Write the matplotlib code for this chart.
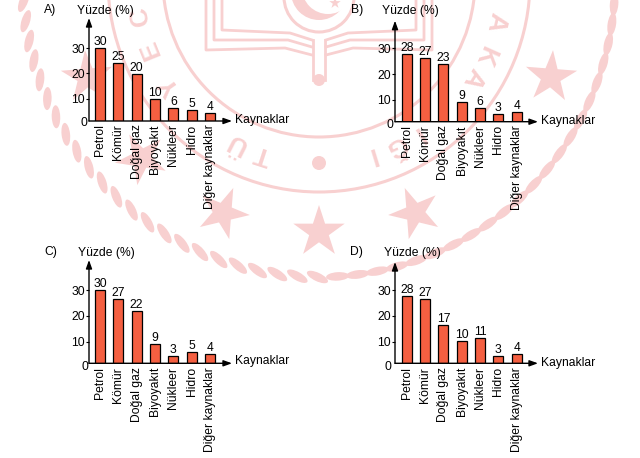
import numpy as np
import matplotlib
matplotlib.use("Agg")
import matplotlib.pyplot as plt
from matplotlib.patches import Circle, Ellipse, Polygon

plt.rcParams['font.family'] = ['Liberation Sans', 'DejaVu Sans']

categories = ["Petrol", "Kömür", "Doğal gaz", "Biyoyakıt", "Nükleer", "Hidro", "Diğer kaynaklar"]
# printed values
labels_a = [30, 25, 20, 10, 6, 5, 4]
labels_b = [28, 27, 23, 9, 6, 3, 4]
labels_c = [30, 27, 22, 9, 3, 5, 4]
labels_d = [28, 27, 17, 10, 11, 3, 4]
# drawn bar heights, read against the y axis
heights_a = [30, 24.2, 19.8, 9.9, 6.4, 5.5, 4.3]
heights_b = [27.8, 26.3, 23.8, 9.2, 7.0, 4.5, 5.5]
heights_c = [30, 26.4, 21.9, 9.0, 4.4, 5.9, 5.1]
heights_d = [27.7, 26.4, 16.5, 10.2, 11.3, 4.6, 5.1]
panel_labels = ["A)", "B)", "C)", "D)"]
yticks = [10, 20, 30]
ylabel = "Yüzde (%)"
xlabel = "Kaynaklar"

W, H = 640, 458
FS = 8.7
PINK = "#f8d0d0"
BAR = "#f45f41"

fig = plt.figure(figsize=(W/100, H/100), dpi=100, facecolor="white")

# ---- background watermark (pixel coordinates, y downward) ----
bg = fig.add_axes([0, 0, 1, 1], zorder=0)
bg.set_xlim(0, W); bg.set_ylim(H, 0); bg.axis("off")
CX, CY = 319, -19

def polar(phi, r):
    a = np.radians(phi)
    return CX + r*np.sin(a), CY - r*np.cos(a)

def star(x, y, radius, turn):
    """Five-pointed star; turn is the clockwise rotation of its apex from straight up."""
    angles = np.radians(turn + 36*np.arange(10))
    radii = np.where(np.arange(10) % 2 == 0, radius, radius*0.382)
    pts = np.column_stack([x + radii*np.sin(angles), y - radii*np.cos(angles)])
    return Polygon(pts, closed=True, fc=PINK, ec="none")

for r in (211, 156):
    bg.add_patch(Circle((CX, CY), r, fill=False, ec=PINK, lw=2.2))
for phi in np.arange(75, 285, 3.9):
    x, y = polar(phi, 296)
    tilt = 25 if phi > 180 else 0
    bg.add_patch(Ellipse((x, y), 23, 8.5, angle=phi+tilt, fc=PINK, ec="none"))
for phi in (-67.5, -22.5, 0, 22.5, 45, 67.5):
    x, y = polar(180+phi, 251)
    bg.add_patch(star(x, y, 27, phi))
bg.add_patch(Circle((319, 163), 7, fc=PINK, ec="none"))
for ch, phi in [("T", 198), ("Ü", 207), ("Y", 235), ("E", 248), ("C", 259),
                ("A", 103), ("K", 114), ("A", 122),
                ("I", 147), ("Ğ", 155), ("I", 163)]:
    x, y = polar(phi, 182)
    bg.text(x, y, ch, fontsize=19, fontweight="bold", color=PINK, ha="center", va="center",
            rotation=-phi, rotation_mode="anchor")
# emblem: crescent and open book
bg.add_patch(Circle((319, -3), 35, fill=False, ec=PINK, lw=2.2))
bg.add_patch(Circle((319, -8), 28, fc=PINK, ec="none"))
bg.add_patch(Circle((328, -12), 26, fc="white", ec="none"))
bg.add_patch(star(335, 3, 6, 0))
for sgn in (-1, 1):
    for xo, yo, xi, yi in [(97, 30, 29, 33), (105, 40, 31, 40), (113, 50, 34, 48)]:
        bg.plot([319+sgn*xo, 319+sgn*xo, 319+sgn*xi, 319+sgn*7],
                [0, yo, yi, yi+7], color=PINK, lw=2)
    bg.plot([319+sgn*6, 319+sgn*6], [40, 80], color=PINK, lw=2)
bg.add_patch(Circle((319, 80), 6, fc=PINK, ec="none"))

# ---- panels: pixel geometry left, tip, base, top, zero, px per 10 ----
panels = [
    (labels_a, heights_a, "A)", 89, 232, 121.0, 18.0, 124.0, 25.3, 11.0, (44, 10), (77, 11), (235, 120), (87, 123)),
    (labels_b, heights_b, "B)", 395, 538, 121.7, 20.7, 125.8, 25.8, 11.7, (351, 10), (382, 11), (541, 121), (393, 125)),
    (labels_c, heights_c, "C)", 89, 232, 363.3, 260.0, 367.5, 25.8, 11.0, (44, 252), (78, 253), (235, 361), (88, 367)),
    (labels_d, heights_d, "D)", 395, 538, 363.3, 262.0, 367.5, 25.8, 11.7, (350, 252), (384, 253), (541, 363), (391, 367)),
]
STEP = 18.33
arrow = dict(arrowstyle="-|>,head_length=0.5,head_width=0.18", color="black", lw=1.0,
             shrinkA=0, shrinkB=0, mutation_scale=10)

for labs, hts, name, x0, tip, base, top, zero, per10, first, lpos, ypos, xpos, zpos in panels:
    ax = fig.add_axes([x0/W, 1-base/H, (tip-x0)/W, (base-top)/H], zorder=1)
    ax.patch.set_visible(False)
    ax.set_xlim(0, tip-x0)
    ax.set_ylim((zero-base)/per10*10, (zero-top)/per10*10)
    xs = [first+STEP*i for i in range(len(categories))]
    ax.bar(xs, hts, width=10, color=BAR, edgecolor="black", linewidth=0.9)
    for x, h, v in zip(xs, hts, labs):
        ax.annotate(str(v), (x, h), xytext=(0, 0), textcoords="offset points",
                    ha="center", va="bottom", fontsize=FS)
    ax.set_xticks(xs)
    ax.set_xticklabels(categories, rotation=90, fontsize=FS)
    ax.set_yticks(yticks)
    ax.tick_params(axis="y", labelsize=FS, length=2, width=0.8, pad=1)
    ax.tick_params(axis="x", length=0, pad=2.5)
    for s in ax.spines.values():
        s.set_visible(False)
    ax.annotate("", xy=(1, 0), xytext=(0, 0), xycoords="axes fraction", arrowprops=arrow)
    ax.annotate("", xy=(0, 1), xytext=(0, 0), xycoords="axes fraction", arrowprops=arrow)
    bg.text(*xpos, xlabel, fontsize=FS, va="center", ha="left")
    bg.text(*ypos, ylabel, fontsize=FS, va="center", ha="left")
    bg.text(*lpos, name, fontsize=FS, va="center", ha="left")
    bg.text(*zpos, "0", fontsize=FS, va="center", ha="right")

fig.savefig("out.png", dpi=100)
